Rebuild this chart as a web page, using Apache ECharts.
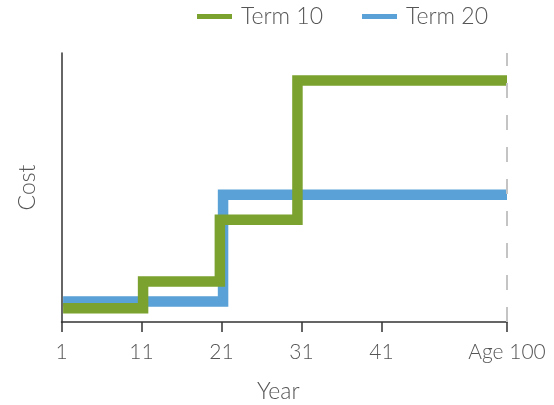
<!DOCTYPE html>
<html>
<head>
<meta charset="utf-8">
<script src="https://cdn.jsdelivr.net/npm/echarts@6/dist/echarts.min.js"></script>
<style>html,body{margin:0;padding:0;background:#fff}#c{width:554px;height:405px}</style>
</head>
<body>
<div id="c"></div>
<script>
// Tick positions (years) and their labels
var tickValues = [1, 11, 21, 31, 41, 56.7];
var tickLabels = ['1', '11', '21', '31', '41', 'Age 100'];
// Term 10: step start years and cost levels (unitless)
var term10Years = [1.2, 11.2, 20.8, 30.5, 56.7];
var term10Cost = [5.1, 15.1, 38.0, 89.8, 89.8];
// Term 20
var term20Years = [1.2, 21.2, 56.7];
var term20Cost = [7.6, 47.3, 47.3];
var endYear = 56.7;

function pairs(xs, ys) { return xs.map(function (x, i) { return [x, ys[i]]; }); }

var FONT = 'Lato';
var chart = echarts.init(document.getElementById('c'));
chart.setOption({
  animation: false,
  legend: {
    left: 192, top: 0,
    itemWidth: 35, itemHeight: 5, itemGap: 39,
    icon: 'rect',
    data: ['Term 10', 'Term 20'],
    textStyle: { fontFamily: FONT, fontWeight: 300, fontSize: 23, color: '#555', padding: [0, 0, 0, 4] }
  },
  grid: { left: 61.5, right: 47, top: 53, bottom: 83, containLabel: false, outerBoundsMode: 'none' },
  xAxis: {
    type: 'value', min: 1, max: endYear,
    name: 'Year', nameLocation: 'middle', nameGap: 58,
    nameTextStyle: { fontFamily: FONT, fontWeight: 300, fontSize: 23, color: '#555', padding: [0, 12, 0, 0] },
    axisLine: { lineStyle: { color: '#333', width: 1.5 } },
    axisTick: { customValues: tickValues, length: 10, lineStyle: { color: '#333', width: 1.5 } },
    axisLabel: {
      customValues: tickValues, margin: 20,
      fontFamily: FONT, fontWeight: 300, fontSize: 21, color: '#555',
      formatter: function (v) { var i = tickValues.indexOf(v); return i >= 0 ? tickLabels[i] : ''; }
    },
    splitLine: { show: false }
  },
  yAxis: {
    type: 'value', min: 0, max: 100,
    name: 'Cost', nameLocation: 'middle', nameGap: 22,
    nameTextStyle: { fontFamily: FONT, fontWeight: 300, fontSize: 23, color: '#555' },
    axisLine: { show: true, lineStyle: { color: '#333', width: 1.5 } },
    axisTick: { show: false },
    axisLabel: { show: false },
    splitLine: { show: false }
  },
  series: [
    {
      name: 'Term 20', type: 'line', step: 'end', symbol: 'none',
      data: pairs(term20Years, term20Cost),
      itemStyle: { color: '#59a1d6' },
      lineStyle: { color: '#59a1d6', width: 10.5, cap: 'butt', join: 'miter' },
      markLine: {
        silent: true, symbol: 'none', label: { show: false },
        lineStyle: { color: '#c4c4c4', width: 2, type: [15, 17] },
        data: [{ xAxis: endYear }]
      },
      z: 2
    },
    {
      name: 'Term 10', type: 'line', step: 'end', symbol: 'none',
      data: pairs(term10Years, term10Cost),
      itemStyle: { color: '#7ba22f' },
      lineStyle: { color: '#7ba22f', width: 10.5, cap: 'butt', join: 'miter' },
      z: 3
    }
  ]
});
</script>
</body>
</html>
